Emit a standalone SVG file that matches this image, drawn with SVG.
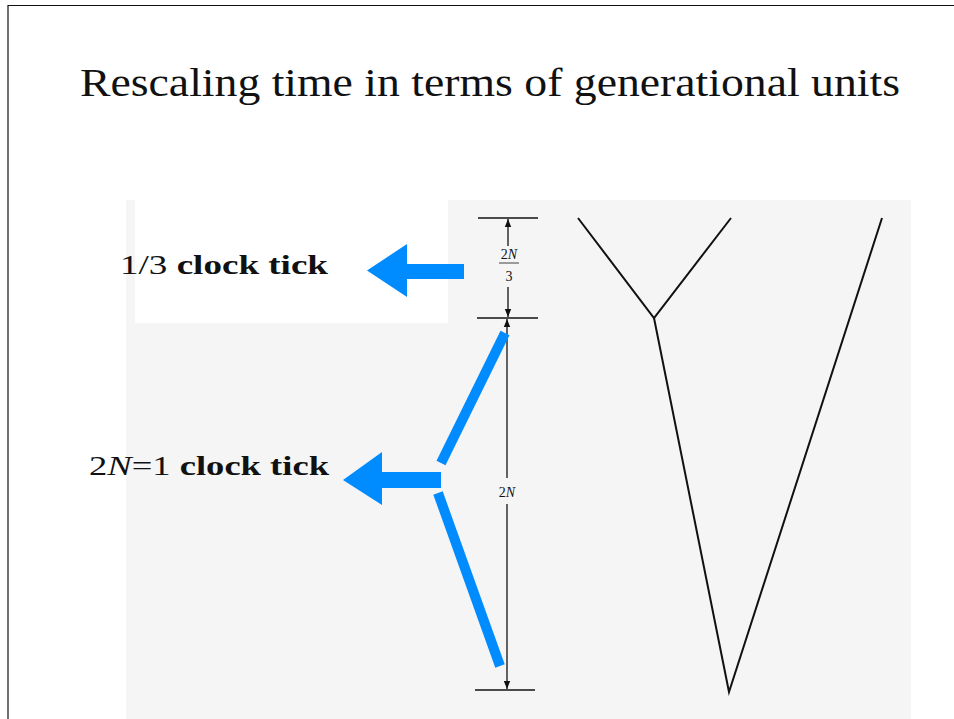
<svg xmlns="http://www.w3.org/2000/svg" width="954" height="719" viewBox="0 0 954 719">
<defs>
<style>
.t{font-family:"Liberation Serif","DejaVu Serif",serif;fill:#111}
.b{font-weight:bold}
.k{stroke:#111;stroke-width:1.3;fill:none}
.br{stroke:#111;stroke-width:2;fill:none}
.blue{fill:#008cff}
.bl{stroke:#008cff;stroke-width:10;fill:none}
</style>
<marker id="ah" viewBox="0 0 10 10" refX="10" refY="5" markerWidth="8" markerHeight="8" markerUnits="userSpaceOnUse" orient="auto"><path d="M0,1 L10,5 L0,9 Z" fill="#111"/></marker>
</defs>
<rect width="954" height="719" fill="#fff"/>
<path d="M8,719 V5.5 H954" stroke="#111" stroke-width="1.2" fill="none"/>
<text class="t" x="80" y="96" font-size="40" textLength="820" lengthAdjust="spacingAndGlyphs">Rescaling time in terms of generational units</text>
<g id="scan">
<rect x="126" y="200" width="785" height="519" fill="#f5f5f5"/>
<rect x="135" y="200" width="313" height="123" fill="#fff"/>
</g>
<g id="dimension">
<line class="k" x1="478" y1="218" x2="538" y2="218"/>
<line class="k" x1="477" y1="318" x2="538" y2="318"/>
<line class="k" x1="475" y1="690" x2="535" y2="690"/>
<line class="k" x1="508" y1="246" x2="508" y2="219" marker-end="url(#ah)"/>
<line class="k" x1="508" y1="287" x2="508" y2="317" marker-end="url(#ah)"/>
<line class="k" x1="507" y1="478" x2="507" y2="319" marker-end="url(#ah)"/>
<line class="k" x1="507" y1="504" x2="507" y2="689" marker-end="url(#ah)"/>
<text class="t" x="509" y="259" font-size="14" text-anchor="middle">2<tspan font-style="italic">N</tspan></text>
<line x1="499" y1="263" x2="519" y2="263" stroke="#111" stroke-width="0.8"/>
<text class="t" x="509" y="281" font-size="14" text-anchor="middle">3</text>
<text class="t" x="507" y="497" font-size="14" text-anchor="middle">2<tspan font-style="italic">N</tspan></text>
</g>
<g id="tree">
<polyline class="br" points="578,218 654,318 731,218"/>
<polyline class="br" points="654,318 729,692 882,218"/>
</g>
<g id="label1">
<text class="t" x="120" y="274" font-size="28" textLength="208" lengthAdjust="spacingAndGlyphs">1/3 <tspan class="b">clock tick</tspan></text>
</g>
<g id="label2">
<text class="t" x="89" y="475" font-size="28" textLength="240" lengthAdjust="spacingAndGlyphs">2<tspan font-style="italic">N</tspan>=1 <tspan class="b">clock tick</tspan></text>
</g>
<g id="connectors">
<path class="blue" d="M464,264 H407 V244 L367,270.5 L407,297 V279 H464 Z"/>
<path class="blue" d="M441,472 H382 V452 L343,480 L382,505 V488 H441 Z"/>
<line class="bl" x1="505" y1="333" x2="441" y2="463"/>
<line class="bl" x1="438" y1="493" x2="500" y2="666"/>
</g>
</svg>
